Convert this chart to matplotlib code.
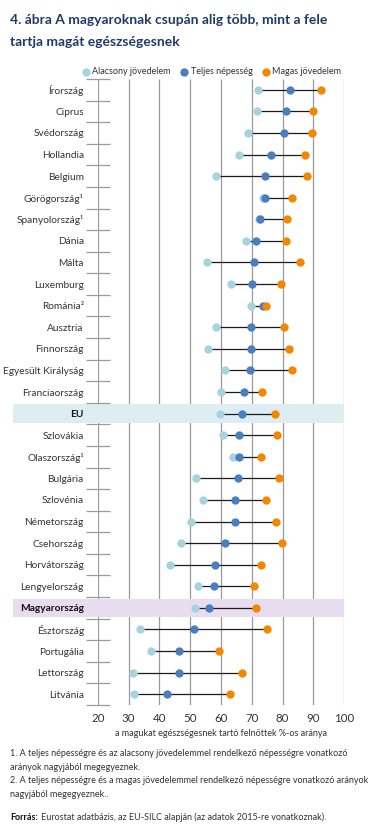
import matplotlib
matplotlib.use("Agg")
import matplotlib.pyplot as plt
import numpy as np

# betűtípus: Calibri-szerű humanista
plt.rcParams['font.family'] = ['Lato', 'DejaVu Sans']

countries = ['Írország', 'Ciprus', 'Svédország', 'Hollandia', 'Belgium',
             'Görögország¹', 'Spanyolország¹', 'Dánia', 'Málta', 'Luxemburg',
             'Románia²', 'Ausztria', 'Finnország', 'Egyesült Királyság',
             'Franciaország', 'EU', 'Szlovákia', 'Olaszország¹', 'Bulgária',
             'Szlovénia', 'Németország', 'Csehország', 'Horvátország',
             'Lengyelország', 'Magyarország', 'Észtország', 'Portugália',
             'Lettország', 'Litvánia']
alacsony = [71.9, 71.7, 68.7, 65.9, 58.4, 73.7, 72.4, 68.0, 55.3, 63.3,
            69.7, 58.3, 55.8, 61.3, 60.0, 59.8, 60.6, 63.8, 51.9,
            54.0, 50.2, 47.0, 43.4, 52.4, 51.6, 33.8, 37.3, 31.3, 31.9]
teljes = [82.4, 81.2, 80.6, 76.1, 74.3, 74.2, 72.8, 71.4, 70.7, 70.2,
          73.7, 69.7, 69.7, 69.3, 67.6, 66.9, 65.7, 65.7, 65.4,
          64.4, 64.4, 61.2, 58.1, 57.6, 56.1, 51.2, 46.3, 46.3, 42.6]
magas = [92.3, 89.7, 89.6, 87.1, 87.9, 82.9, 81.4, 81.1, 85.7, 79.4,
         74.7, 80.6, 82.2, 83.1, 73.3, 77.6, 78.2, 73.1, 78.9,
         74.6, 77.8, 79.7, 72.9, 70.7, 71.4, 74.9, 59.2, 66.7, 62.8]
xticks = [20, 30, 40, 50, 60, 70, 80, 90, 100]

c_low = '#a8d3de'
c_mid = '#4b7dc1'
c_high = '#f28700'
grid_c = '#9a9a9a'
text_c = '#333333'

fig = plt.figure(figsize=(3.73, 8.24), dpi=100)
ax = fig.add_axes([97.7 / 373, 1 - 705 / 824, (344.3 - 97.7) / 373, (705 - 79) / 824])

y = np.arange(len(countries))

# függőleges rácsvonalak
ax.vlines(xticks, -0.5, len(countries) - 0.5, color=grid_c, lw=0.9, zorder=0.5)

# kiemelt sorok (EU, Magyarország)
for name, col in [('EU', '#deedf2'), ('Magyarország', '#e7ddee')]:
    i = countries.index(name)
    ax.add_patch(plt.Rectangle((-7.4, i - 0.43), 107.4, 0.86, color=col,
                               lw=0, zorder=1, clip_on=False))

# összekötő vonalak
lo = np.minimum(np.minimum(alacsony, teljes), magas)
hi = np.maximum(np.maximum(alacsony, teljes), magas)
ax.hlines(y, lo, hi, color='#1a1a1a', lw=0.9, zorder=3)

ax.scatter(alacsony, y, s=36, color=c_low, lw=0, zorder=4, label='Alacsony jövedelem', clip_on=False)
ax.scatter(teljes, y, s=36, color=c_mid, lw=0, zorder=5, label='Teljes népesség', clip_on=False)
ax.scatter(magas, y, s=36, color=c_high, lw=0, zorder=6, label='Magas jövedelem', clip_on=False)

ax.set_xlim(20, 100)
ax.set_ylim(len(countries) - 0.5, -0.5)
for s in ax.spines.values():
    s.set_visible(False)

ax.set_yticks(y)
ax.set_yticklabels(countries)
ax.set_yticks(np.arange(-0.5, len(countries)), minor=True)
ax.tick_params(axis='y', which='major', length=0, pad=10, labelsize=7.3, labelcolor=text_c)
ax.tick_params(axis='y', which='minor', length=17.5, width=0.9, direction='inout', color=grid_c)
for lab in ax.get_yticklabels():
    if lab.get_text() in ('EU', 'Magyarország'):
        lab.set_fontweight('bold')
        lab.set_color('#111111')

ax.set_xticks(xticks)
ax.tick_params(axis='x', length=0, pad=6, labelsize=8.3, labelcolor=text_c)
ax.set_xlabel('a magukat egészségesnek tartó felnőttek %-os aránya', fontsize=6.5,
              color=text_c, labelpad=3)

ax.legend(loc='center right', bbox_to_anchor=(346 / 373, 1 - 72 / 824),
          bbox_transform=fig.transFigure, ncol=3, frameon=False, fontsize=6.5,
          handletextpad=0.1, columnspacing=0.9, borderpad=0, handlelength=1.2,
          labelcolor=text_c)

# cím
fig.text(10 / 373, 1 - 20 / 824, '4. ábra A magyaroknak csupán alig több, mint a fele',
         fontsize=10, fontweight='bold', color='#1f3a6b', va='center')
fig.text(10 / 373, 1 - 42 / 824, 'tartja magát egészségesnek',
         fontsize=10, fontweight='bold', color='#1f3a6b', va='center')

# lábjegyzetek
notes = ['1. A teljes népességre és az alacsony jövedelemmel rendelkező népességre vonatkozó',
         'arányok nagyjából megegyeznek.',
         '2. A teljes népességre és a magas jövedelemmel rendelkező népességre vonatkozó arányok',
         'nagyjából megegyeznek..']
for k, t in enumerate(notes):
    fig.text(10 / 373, 1 - (754 + k * 13.4) / 824, t, fontsize=6.5, color=text_c, va='center')

src = fig.text(10 / 373, 1 - 817 / 824, 'Forrás:', fontsize=6.5, fontweight='bold',
               color='#111111', va='center')
plt.annotate('Eurostat adatbázis, az EU-SILC alapján (az adatok 2015-re vonatkoznak).',
             xy=(1, 0.5), xycoords=src, xytext=(2, 0), textcoords='offset points',
             fontsize=6.5, color=text_c, va='center')

fig.savefig('out.png', dpi=100)
